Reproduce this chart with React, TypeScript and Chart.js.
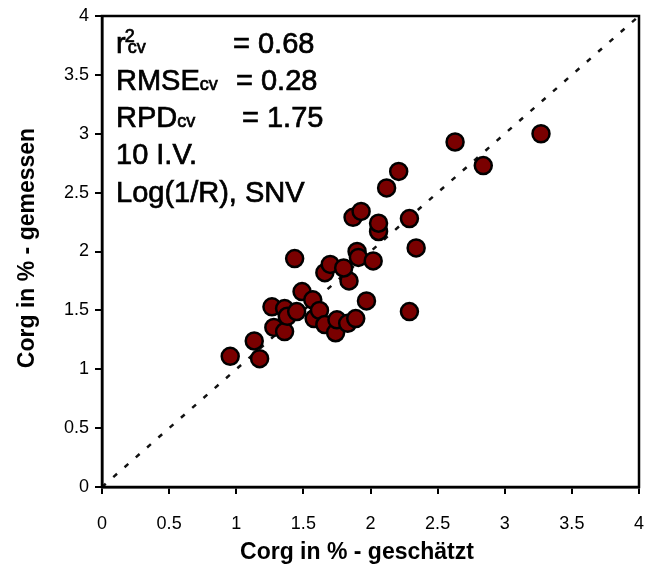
import React, { useEffect, useRef } from "react";
import { Chart, registerables } from "chart.js";

Chart.register(...registerables);

// Estimated (x) vs measured (y) Corg in %
const estimated = [
  0.955, 1.134, 1.174, 1.266, 1.28, 1.36, 1.36, 1.38, 1.45, 1.49,
  1.57, 1.58, 1.62, 1.66, 1.74, 1.75, 1.83, 1.89, 1.97, 2.29,
  1.84, 1.435, 1.66, 1.7, 1.8, 1.9, 1.91, 2.02, 2.06, 2.06,
  2.34, 2.29, 1.87, 1.93, 2.12, 2.21, 2.63, 2.84, 3.27,
];
const measured = [
  1.11, 1.24, 1.09, 1.53, 1.355, 1.32, 1.515, 1.45, 1.49, 1.66,
  1.59, 1.43, 1.5, 1.38, 1.31, 1.42, 1.39, 1.43, 1.58, 1.49,
  1.75, 1.94, 1.82, 1.89, 1.86, 2.0, 1.95, 1.92, 2.17, 2.24,
  2.03, 2.28, 2.29, 2.34, 2.54, 2.68, 2.93, 2.73, 3.0,
];
const diagonal = [0, 4];
const axisMin = 0;
const axisMax = 4;
const axisStep = 0.5;

const xTitle = "Corg in % - geschätzt";
const yTitle = "Corg in % - gemessen";
const statNames = ["r", "RMSE", "RPD"];
const statValues = ["= 0.68", "= 0.28", "= 1.75"];
const extraLines = ["10 I.V.", "Log(1/R), SNV"];

const FONT = "'Liberation Sans', Arial, sans-serif";

const overlayPlugin = {
  id: "overlay",
  afterDraw(chart: any) {
    const { ctx, chartArea } = chart;
    const { left, right, top, bottom } = chartArea;
    ctx.save();
    // frame
    ctx.strokeStyle = "#000";
    ctx.lineWidth = 2.5;
    ctx.strokeRect(left, top, right - left, bottom - top);

    ctx.fillStyle = "#000";
    ctx.textAlign = "left";
    ctx.textBaseline = "alphabetic";
    ctx.lineWidth = 0.7;
    const put = (t: string, x: number, y: number) => {
      ctx.fillText(t, x, y);
      ctx.strokeText(t, x, y);
    };
    const big = `29px ${FONT}`;
    const small = `18px ${FONT}`;
    const x0 = 116;
    const baselines = [53, 90, 127, 164, 202];
    const valueX = [233, 236, 242];
    statNames.forEach((name, i) => {
      const y = baselines[i];
      ctx.font = big;
      put(name, x0, y);
      let x = x0 + ctx.measureText(name).width;
      ctx.font = small;
      if (i === 0) {
        put("2", x - 1, y - 11);
        x += 2;
      }
      put("cv", x, y);
      ctx.font = big;
      put(statValues[i], valueX[i], y);
    });
    extraLines.forEach((t, j) => {
      ctx.font = big;
      put(t, x0, baselines[3 + j]);
    });

    // axis titles
    ctx.font = `bold 23px ${FONT}`;
    ctx.textAlign = "center";
    ctx.textBaseline = "middle";
    ctx.fillText(xTitle, 357, 553);
    ctx.save();
    ctx.translate(28, 248);
    ctx.rotate(-Math.PI / 2);
    ctx.fillText(yTitle, 0, 0);
    ctx.restore();
    ctx.restore();
  },
};

export default function App() {
  const ref = useRef<HTMLCanvasElement | null>(null);
  useEffect(() => {
    if (!ref.current) return;
    const points = estimated.map((x, i) => ({ x, y: measured[i] }));
    const line = diagonal.map((v) => ({ x: v, y: v }));
    const tickFont = { family: FONT, size: 18 };
    const fmt = (v: any) => `${+v}`;
    const chart = new Chart(ref.current, {
      type: "scatter",
      data: {
        datasets: [
          {
            data: points,
            backgroundColor: "#7a0000",
            borderColor: "#000",
            borderWidth: 2.5,
            pointRadius: 8.5,
            pointHoverRadius: 8.5,
            order: 0,
          },
          {
            data: line,
            showLine: true,
            borderColor: "#111",
            borderWidth: 2.5,
            borderDash: [5, 10],
            pointRadius: 0,
            order: 1,
          } as any,
        ],
      },
      options: {
        animation: false,
        responsive: false,
        maintainAspectRatio: false,
        layout: { autoPadding: false, padding: { left: 0, top: 16, right: 6, bottom: 0 } },
        plugins: {
          legend: { display: false },
          tooltip: { enabled: false },
        },
        scales: {
          x: {
            type: "linear",
            min: axisMin,
            max: axisMax,
            afterFit: (s: any) => {
              s.height = 90;
              s.paddingLeft = 0;
              s.paddingRight = 0;
            },
            ticks: { stepSize: axisStep, color: "#000", font: tickFont, padding: 19, callback: fmt },
            grid: {
              drawOnChartArea: false,
              drawTicks: true,
              tickLength: 7,
              color: "#000",
              lineWidth: 2,
            },
            border: { display: true, color: "#000", width: 2.5 },
          },
          y: {
            type: "linear",
            min: axisMin,
            max: axisMax,
            afterFit: (s: any) => {
              s.width = 102;
              s.paddingTop = 0;
              s.paddingBottom = 0;
            },
            ticks: { stepSize: axisStep, color: "#000", font: tickFont, padding: 6, callback: fmt },
            grid: {
              drawOnChartArea: false,
              drawTicks: true,
              tickLength: 7,
              color: "#000",
              lineWidth: 2,
            },
            border: { display: true, color: "#000", width: 2.5 },
          },
        },
      },
      plugins: [overlayPlugin],
    });
    return () => chart.destroy();
  }, []);
  return (
    <div style={{ position: "fixed", left: 0, top: 0, width: 645, height: 577, background: "#fff" }}>
      <canvas ref={ref} width={645} height={577} style={{ width: 645, height: 577 }} />
    </div>
  );
}
